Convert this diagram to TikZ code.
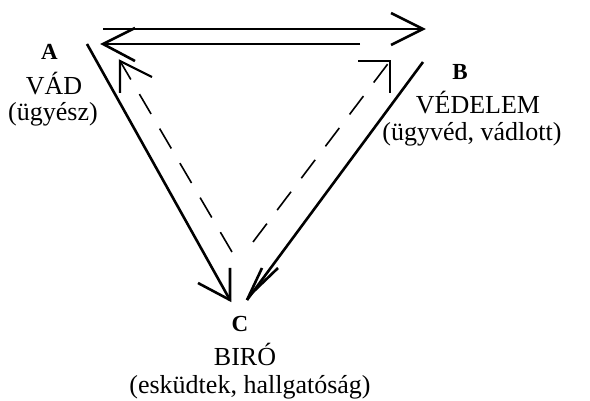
\documentclass[tikz,border=0pt]{standalone}
\usepackage{fontspec}
\setmainfont{Liberation Serif}
\begin{document}
\begin{tikzpicture}[x=1pt,y=-1pt,
  lbl/.style={font=\fontsize{23}{25}\selectfont\bfseries, anchor=base, inner sep=0pt},
  txt/.style={font=\fontsize{26}{28}\selectfont, anchor=base, inner sep=0pt},
  wire/.style={line width=2.6pt},
  head/.style={line width=2.6pt, line join=miter},
  dashwire/.style={line width=1.6pt, dash pattern=on 23pt off 17pt},
  dhead/.style={line width=2.2pt, line join=miter}]
\useasboundingbox (0,0) rectangle (590,401);

% party labels
\node[lbl] (A)  at (49.5,60)  {A};
\node[txt] (A1) at (54,95)    {VÁD};
\node[txt] (A2) at (53,121)   {(ügyész)};
\node[lbl] (B)  at (460,80)   {B};
\node[txt] (B1) at (478,114)  {VÉDELEM};
\node[txt] (B2) at (472,141)  {(ügyvéd, vádlott)};
\node[lbl] (C)  at (240,332)  {C};
\node[txt] (C1) at (245,366)  {BIRÓ};
\node[txt] (C2) at (250,393)  {(esküdtek, hallgatóság)};

% end points of the connectors
\coordinate (ab-s) at (103,29);  \coordinate (ab-e) at (423,29);
\coordinate (ba-s) at (360,44);  \coordinate (ba-e) at (103,44);
\coordinate (ac-s) at (87,44);   \coordinate (ac-e) at (230,300);
\coordinate (bc-s) at (423,62);  \coordinate (bc-e) at (247,300);
\coordinate (ca-s) at (232,252); \coordinate (ca-e) at (120,61);
\coordinate (cb-s) at (253,242); \coordinate (cb-e) at (390,61);

% A -> B and B -> A
\draw[wire] (ab-s) -- (ab-e);
\draw[head] ([shift={(-32,-16)}]ab-e) -- (ab-e) -- ([shift={(-32,16)}]ab-e);
\draw[wire] (ba-s) -- (ba-e);
\draw[head] ([shift={(32,-16)}]ba-e) -- (ba-e) -- ([shift={(32,17)}]ba-e);

% A -> C and B -> C
\draw[wire] (ac-s) -- (ac-e);
\draw[head] ([shift={(-32,-17)}]ac-e) -- (ac-e) -- ([shift={(0,-32)}]ac-e);
\draw[wire] (bc-s) -- (bc-e);
\draw[head] ([shift={(15,-32)}]bc-e) -- (bc-e);
\draw[head] ([shift={(4,-6)}]bc-e) -- ([shift={(31,-32)}]bc-e);

% C -> A and C -> B (dashed)
\draw[dashwire] (ca-s) -- (ca-e);
\draw[dhead] ([shift={(0,32)}]ca-e) -- (ca-e) -- ([shift={(32,16)}]ca-e);
\draw[dashwire] (cb-s) -- (cb-e);
\draw[dhead] ([shift={(-32,0)}]cb-e) -- (cb-e) -- ([shift={(0,32)}]cb-e);
\end{tikzpicture}
\end{document}
